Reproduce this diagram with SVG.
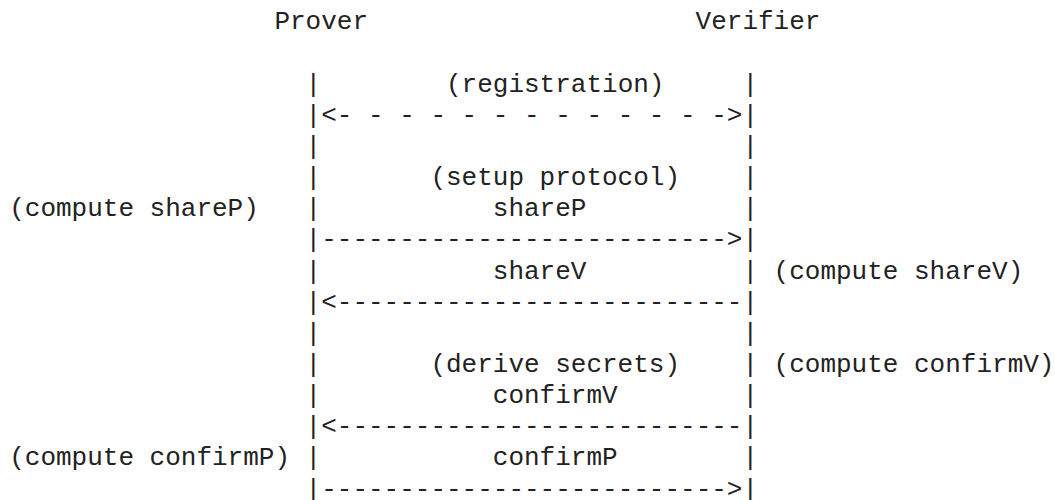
<svg xmlns="http://www.w3.org/2000/svg" width="1055" height="500" viewBox="0 0 1055 500">
<style>
  text { font-family: "Liberation Mono", "DejaVu Sans Mono", monospace; font-size: 26px; fill: #222222; white-space: pre; }
</style>
<rect width="1055" height="500" fill="#ffffff"/>
<g id="prover">
  <text x="274.4" y="29.3">Prover</text>
  <text x="305.6" y="91.6">|</text>
  <text x="305.6" y="122.75">|</text>
  <text x="305.6" y="153.9">|</text>
  <text x="305.6" y="185.05">|</text>
  <text x="305.6" y="216.2">|</text>
  <text x="305.6" y="247.35">|</text>
  <text x="305.6" y="278.5">|</text>
  <text x="305.6" y="309.65">|</text>
  <text x="305.6" y="340.8">|</text>
  <text x="305.6" y="371.95">|</text>
  <text x="305.6" y="403.1">|</text>
  <text x="305.6" y="434.25">|</text>
  <text x="305.6" y="465.4">|</text>
  <text x="305.6" y="496.55">|</text>
</g>
<g id="verifier">
  <text x="695.6" y="29.3">Verifier</text>
  <text x="742.4" y="91.6">|</text>
  <text x="742.4" y="122.75">|</text>
  <text x="742.4" y="153.9">|</text>
  <text x="742.4" y="185.05">|</text>
  <text x="742.4" y="216.2">|</text>
  <text x="742.4" y="247.35">|</text>
  <text x="742.4" y="278.5">|</text>
  <text x="742.4" y="309.65">|</text>
  <text x="742.4" y="340.8">|</text>
  <text x="742.4" y="371.95">|</text>
  <text x="742.4" y="403.1">|</text>
  <text x="742.4" y="434.25">|</text>
  <text x="742.4" y="465.4">|</text>
  <text x="742.4" y="496.55">|</text>
</g>
<g id="prover-notes">
  <text x="9.2" y="216.2">(compute shareP)</text>
  <text x="9.2" y="465.4">(compute confirmP)</text>
</g>
<g id="verifier-notes">
  <text x="773.6" y="278.5">(compute shareV)</text>
  <text x="773.6" y="371.95">(compute confirmV)</text>
</g>
<g id="phase-labels">
  <text x="446.0" y="91.6">(registration)</text>
  <text x="430.4" y="185.05">(setup protocol)</text>
  <text x="430.4" y="371.95">(derive secrets)</text>
</g>
<g id="message-labels">
  <text x="492.8" y="216.2">shareP</text>
  <text x="492.8" y="278.5">shareV</text>
  <text x="492.8" y="403.1">confirmV</text>
  <text x="492.8" y="465.4">confirmP</text>
</g>
<g id="connectors">
  <text x="321.2" y="122.75">&lt;- - - - - - - - - - - - -&gt;</text>
  <text x="321.2" y="247.35">--------------------------&gt;</text>
  <text x="321.2" y="309.65">&lt;--------------------------</text>
  <text x="321.2" y="434.25">&lt;--------------------------</text>
  <text x="321.2" y="496.55">--------------------------&gt;</text>
</g>
</svg>
